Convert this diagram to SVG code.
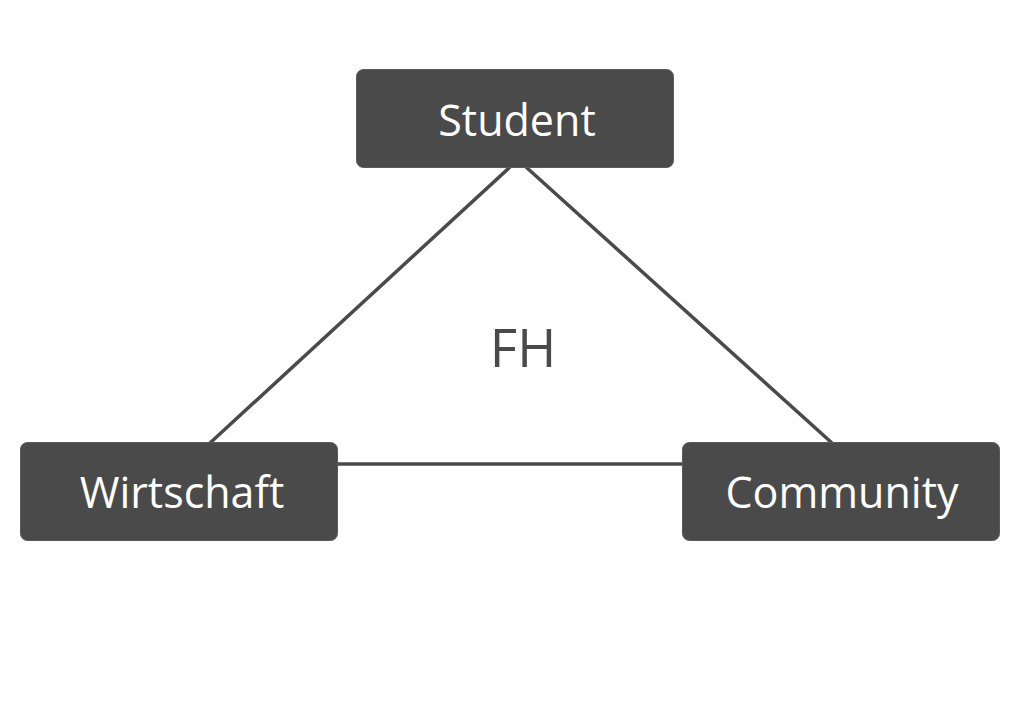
<svg xmlns="http://www.w3.org/2000/svg" width="1024" height="720" viewBox="0 0 1024 720">
<style>
.box{fill:#4a4a4a;stroke:#5a5a5a;stroke-width:1}
.lbl{fill:#ffffff;font-family:"Open Sans","Noto Sans",sans-serif;font-size:43px;text-anchor:middle}
.conn{stroke:#4a4a4a;stroke-width:3.5;fill:none}
.center{fill:#4a4a4a;font-family:"Open Sans","Noto Sans",sans-serif;font-size:53px;text-anchor:middle}
</style>
<rect width="1024" height="720" fill="#ffffff"/>
<g id="connectors">
<line class="conn" x1="510" y1="167" x2="210" y2="443"/>
<line class="conn" x1="526" y1="167" x2="832" y2="443"/>
<line class="conn" x1="337" y1="464" x2="683" y2="464"/>
</g>
<g id="student">
<rect class="box" x="356.5" y="69.5" width="317" height="98" rx="7"/>
<text class="lbl" x="517" y="136">Student</text>
</g>
<g id="wirtschaft">
<rect class="box" x="20.5" y="442.5" width="317" height="98" rx="7"/>
<text class="lbl" x="182" y="508">Wirtschaft</text>
</g>
<g id="community">
<rect class="box" x="682.5" y="442.5" width="317" height="98" rx="7"/>
<text class="lbl" x="842" y="508">Community</text>
</g>
<g id="fh">
<text class="center" x="523" y="367">FH</text>
</g>
</svg>
